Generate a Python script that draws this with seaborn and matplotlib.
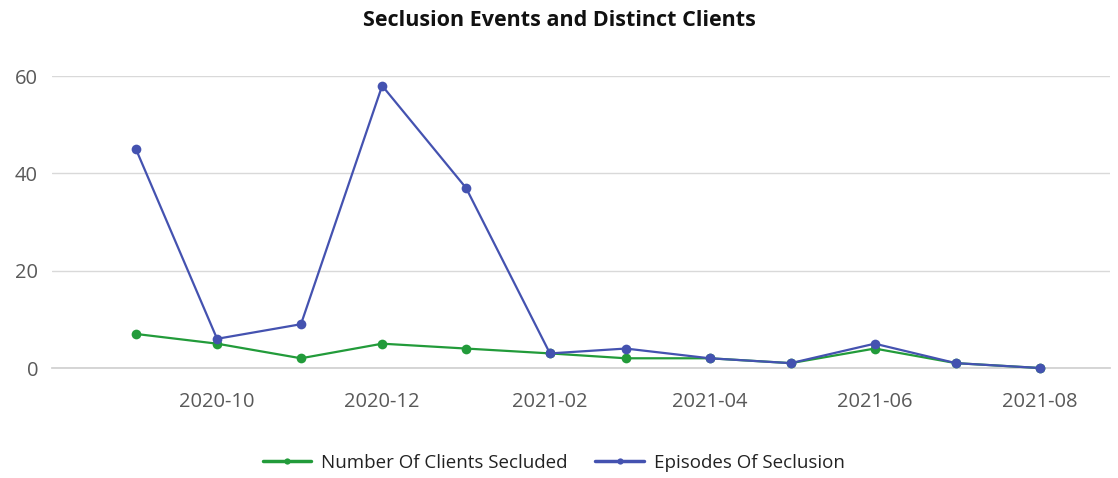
import matplotlib
matplotlib.use("Agg")
import matplotlib.pyplot as plt
import seaborn as sns
import pandas as pd

months = ["2020-09", "2020-10", "2020-11", "2020-12", "2021-01", "2021-02",
          "2021-03", "2021-04", "2021-05", "2021-06", "2021-07", "2021-08"]
clients = [7, 5, 2, 5, 4, 3, 2, 2, 1, 4, 1, 0]
episodes = [45, 6, 9, 58, 37, 3, 4, 2, 1, 5, 1, 0]
tick_labels = ["2020-10", "2020-12", "2021-02", "2021-04", "2021-06", "2021-08"]

sns.set_theme(style="white")
plt.rcParams['font.family'] = ['Open Sans', 'DejaVu Sans']

dates = pd.to_datetime(months)
df = pd.DataFrame({
    "date": list(dates) * 2,
    "value": clients + episodes,
    "series": ["Number Of Clients Secluded"] * len(months) + ["Episodes Of Seclusion"] * len(months),
})

fig = plt.figure(figsize=(11.18, 4.78), dpi=100)
ax = fig.add_axes([0.0465, 0.2301, 0.9465, 0.6109])

palette = {"Number Of Clients Secluded": "#229b3a", "Episodes Of Seclusion": "#4452b0"}
sns.lineplot(data=df, x="date", y="value", hue="series", palette=palette,
             marker="o", markersize=7, markeredgewidth=0, linewidth=1.6,
             ax=ax, clip_on=False, zorder=3)

ax.set_ylim(0, 60)
ax.set_yticks([0, 20, 40, 60])
ax.set_xlim(pd.Timestamp("2020-08-01"), pd.Timestamp("2021-08-27"))
ax.set_xticks(pd.to_datetime(tick_labels))
ax.set_xticklabels(tick_labels)
ax.grid(axis="y", color="#d9d9d9", linewidth=1)
ax.set_axisbelow(True)
for s in ["top", "right", "left"]:
    ax.spines[s].set_visible(False)
ax.spines["bottom"].set_color("#d0d0d0")
ax.tick_params(axis="x", length=0, pad=17, labelsize=14.5, labelcolor="#595959")
ax.tick_params(axis="y", length=0, pad=10, labelsize=14.5, labelcolor="#595959")
ax.set_xlabel("")
ax.set_ylabel("")

fig.suptitle("Seclusion Events and Distinct Clients", x=0.5, y=0.98,
             fontsize=15.5, fontweight="bold", color="#111111")

handles, labels = ax.get_legend_handles_labels()
for h in handles:
    h.set_markersize(4.5)
    h.set_linewidth(2.5)
ax.legend(handles, labels, loc="center", bbox_to_anchor=(0.474, -0.325),
          ncol=2, frameon=False, fontsize=13.5, handlelength=2.6,
          columnspacing=1.5, handletextpad=0.5, labelcolor="#222222")

fig.savefig("out.png", dpi=100)
